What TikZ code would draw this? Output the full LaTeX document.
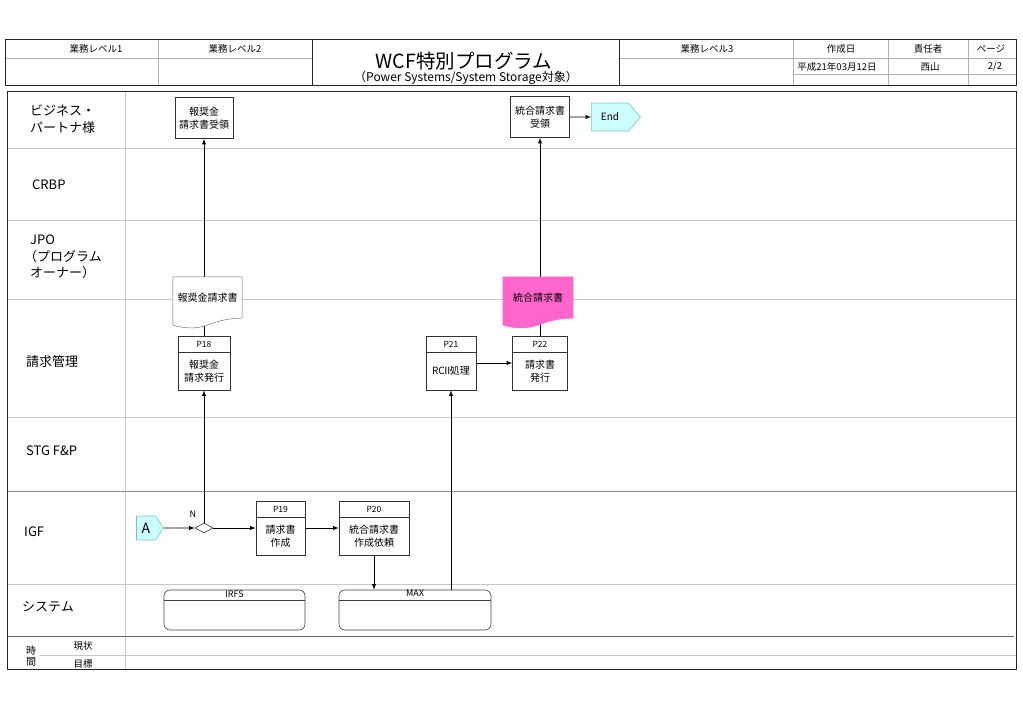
\documentclass[tikz,border=0pt]{standalone}
\usepackage{fontspec}
\setmainfont{Noto Sans CJK JP}
\usetikzlibrary{shapes.geometric,shapes.symbols,calc,positioning}
\definecolor{docpink}{HTML}{FF66CC}
\definecolor{termfill}{HTML}{CCFFFF}
\definecolor{termline}{HTML}{7FBFBF}

\begin{document}
\begin{tikzpicture}[
  x=1pt, y=-1pt,
  lane/.style={draw=black!22, line width=0.6pt},
  grid/.style={draw=black!30, line width=0.5pt},
  frame/.style={draw=black!85, line width=1pt},
  box/.style={rectangle, draw=black!80, fill=white, line width=0.6pt, minimum height=41, inner sep=1pt, align=center, font=\fontsize{10}{12.5}\selectfont},
  proc/.style={rectangle, draw=black!80, fill=white, line width=0.6pt, minimum height=54},
  ptag/.style={rectangle, draw=black!80, line width=0.6pt, anchor=north, minimum height=16.5, inner sep=0pt, font=\fontsize{8.5}{9}\selectfont},
  ptext/.style={align=center, inner sep=0pt, font=\fontsize{10}{13}\selectfont},
  doc/.style={rectangle, minimum height=41, inner sep=0pt},
  doctext/.style={inner sep=0pt, font=\fontsize{10}{12}\selectfont},
  term/.style={signal, signal to=east, draw=termline, fill=termfill, line width=0.6pt, inner sep=1pt},
  sys/.style={rectangle, rounded corners=6pt, draw=black!75, line width=0.6pt, minimum height=40},
  systag/.style={anchor=north, inner sep=0.5pt, font=\fontsize{9}{10}\selectfont},
  lanelabel/.style={anchor=west, align=left, inner sep=0pt, font=\fontsize{13}{16.5}\selectfont},
  head/.style={inner sep=0pt, font=\fontsize{9.5}{10}\selectfont},
  flow/.style={-latex, line width=0.9pt},
  link/.style={line width=0.9pt}
]
\useasboundingbox (0,0) rectangle (1023,708);

% Header
\draw[grid] (5,58) -- (312,58);
\draw[grid] (619,58) -- (1016,58);
\draw[grid] (793,74) -- (1016,74);
\draw[grid] (158,40) -- (158,86);
\draw[grid] (793,40) -- (793,86);
\draw[grid] (888,40) -- (888,86);
\draw[grid] (968,40) -- (968,86);
\draw[frame] (312,40) -- (312,86);
\draw[frame] (619,40) -- (619,86);
\draw[frame] (5,40) rectangle (1016,86);

\node[head] (lv1) at (96,49) {業務レベル1};
\node[head] (lv2) at (235,49) {業務レベル2};
\node[head] (lv3) at (707,49) {業務レベル3};
\node[head] (date) at (841,49) {作成日};
\node[head] (owner) at (928,49) {責任者};
\node[head] (page) at (991,49) {ページ};
\node[head] (dateval) at (837,67) {平成21年03月12日};
\node[head] (ownerval) at (930,67) {西山};
\node[head] (pageval) at (995,67) {2/2};
\node[inner sep=0pt, font=\fontsize{19.5}{22}\selectfont] (title) at (464,61) {WCF特別プログラム};
\node[inner sep=0pt, font=\fontsize{12}{14}\selectfont] (subtitle) at (466,78) {（Power Systems/System Storage対象）};

% Swim lanes
\draw[lane] (7,148) -- (1016,148);
\draw[lane] (7,220) -- (1016,220);
\draw[lane] (7,299) -- (1016,299);
\draw[lane] (7,417) -- (1016,417);
\draw[lane, draw=black!45] (7,491) -- (1016,491);
\draw[lane] (7,584) -- (1016,584);
\draw[lane] (125,92) -- (125,669);
\draw[draw=black!60, double=white, double distance=0.8pt, line width=0.6pt] (7,637) -- (1014,637);
\draw[lane] (40,655) -- (1016,655);
\draw[frame] (7,92) rectangle (1016,669);

\node[lanelabel] (bp) at (30,119) {ビジネス・\\パートナ様};
\node[lanelabel] (crbp) at (32,185) {CRBP};
\node[lanelabel] (jpo) at (30,257) {JPO\\\hspace*{-6pt}（プログラム\\オーナー）};
\node[lanelabel] (billing) at (26,362) {請求管理};
\node[lanelabel] (stg) at (26,451) {STG F\&P};
\node[lanelabel] (igf) at (24,532) {IGF};
\node[lanelabel] (system) at (22,607) {システム};
\node[lanelabel, font=\fontsize{10}{11}\selectfont] (jikan) at (26,656) {時\\間};
\node[head] (now) at (83,646) {現状};
\node[head] (goal) at (83,664) {目標};

% Flow nodes
\node[box, minimum width=58] (r18) at (204,118) {報奨金\\請求書受領};
\node[box, minimum width=59] (r22) at (540,117) {統合請求書\\受領};
\node[term, minimum width=49, minimum height=28, signal pointer angle=100, font=\fontsize{10}{11}\selectfont] (end) at (610,117) {End};

\node[doc, minimum width=69] (d18) at (207.5,297.5) {};
\node[doc, minimum width=70] (d22) at (538,297.5) {};

\node[proc, minimum width=52, label={[ptag, minimum width=52]north:P18}] (p18) at (204,363) {};
\node[ptext] (p18t) at ($(p18.center)+(0,8)$) {報奨金\\請求発行};
\node[proc, minimum width=50, label={[ptag, minimum width=50]north:P21}] (p21) at (451,363) {};
\node[ptext] (p21t) at ($(p21.center)+(0,8)$) {RC\kern-2.5ptⅡ\kern-2.5pt処理};
\node[proc, minimum width=55, label={[ptag, minimum width=55]north:P22}] (p22) at (540,363) {};
\node[ptext] (p22t) at ($(p22.center)+(0,8)$) {請求書\\発行};
\node[proc, minimum width=49, label={[ptag, minimum width=49]north:P19}] (p19) at (280.5,528) {};
\node[ptext] (p19t) at ($(p19.center)+(0,8)$) {請求書\\作成};
\node[proc, minimum width=70, label={[ptag, minimum width=70]north:P20}] (p20) at (374,528) {};
\node[ptext] (p20t) at ($(p20.center)+(0,8)$) {統合請求書\\作成依頼};

\node[term, minimum width=27, minimum height=24, signal pointer angle=112, font=\fontsize{14}{16}\selectfont] (a) at (146,528) {A};
\node[diamond, draw=black!80, fill=white, line width=0.6pt, minimum width=18, minimum height=10, inner sep=0pt] (dec) at (204,528) {};
\node[inner sep=0pt, font=\fontsize{9}{10}\selectfont] (no) at (193,514) {N};

\node[sys, minimum width=141, label={[systag]north:IRFS}] (irfs) at (234.5,610) {};
\node[sys, minimum width=152, label={[systag]north:MAX}] (max) at (415,610) {};
\draw[black!75, line width=0.6pt] ($(irfs.north west)+(0,11)$) -- ($(irfs.north east)+(0,11)$);
\draw[black!75, line width=0.6pt] ($(max.north west)+(0,11)$) -- ($(max.north east)+(0,11)$);

% Arrows
\draw[flow] (a) -- (dec);
\draw[flow] (dec) -- (p19);
\draw[flow] (dec) -- (p18);
\draw[flow] (p19) -- (p20);
\draw[flow] (p20) -- (p20 |- max.north);
\draw[flow] (max.north -| p21) -- (p21);
\draw[flow] (p21) -- (p22);
\draw[flow] (r22) -- (end);
\draw[link] (p18) -- (p18 |- d18.south);
\draw[flow] (r18 |- d18.north) -- (r18);
\draw[link] (p22) -- (p22 |- d22.south);
\draw[flow] (r22 |- d22.north) -- (r22);

% Documents
\draw[draw=black!55, line width=0.5pt, fill=white] (d18.north west) -- (d18.north east) -- (d18.south east) .. controls +(-34.5,0) and +(34.5,9) .. ($(d18.south west)+(0,7)$) -- cycle;
\draw[draw=docpink, line width=0.5pt, fill=docpink] (d22.north west) -- (d22.north east) -- (d22.south east) .. controls +(-35,0) and +(35,9) .. ($(d22.south west)+(0,7)$) -- cycle;
\node[doctext] (d18t) at (d18) {報奨金請求書};
\node[doctext] (d22t) at (d22) {統合請求書};

\end{tikzpicture}
\end{document}
